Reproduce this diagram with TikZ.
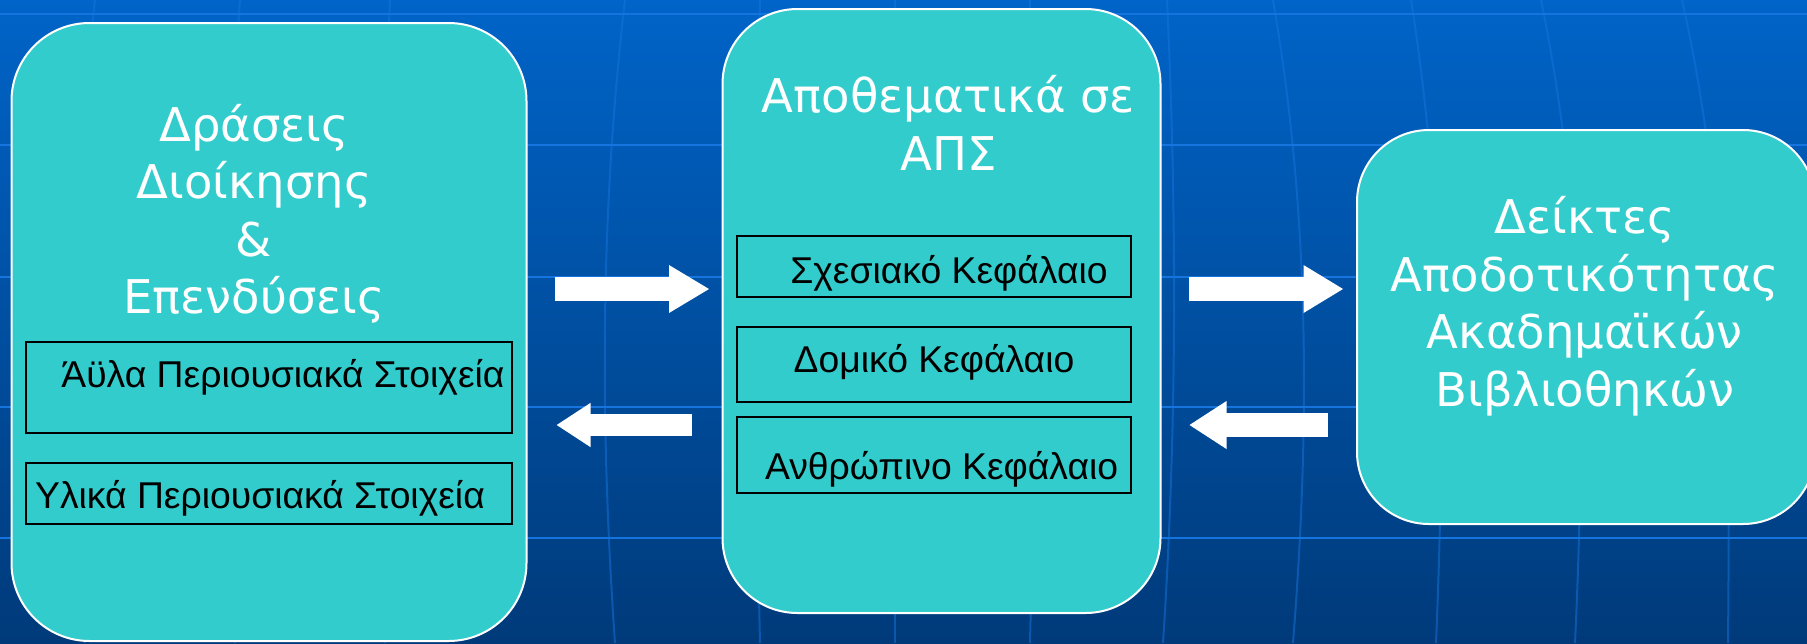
\documentclass[tikz,border=0pt]{standalone}
\usepackage{fontspec}
\usetikzlibrary{arrows.meta}
\newfontfamily\titlefont{DejaVu Sans}
\newfontfamily\labelfont{Liberation Sans}
\definecolor{bgtop}{RGB}{0,100,200}
\definecolor{bgbot}{RGB}{0,58,122}
\definecolor{gridc}{RGB}{22,116,222}
\definecolor{boxteal}{RGB}{51,204,204}
\tikzset{
  bigbox/.style={draw=white, line width=2pt, fill=boxteal, rounded corners=78pt, inner sep=0pt},
  subbox/.style={draw=black, line width=2pt, inner sep=0pt},
  titletext/.style={text=white, align=center, inner sep=0pt, font=\titlefont\fontsize{46.5pt}{57.5pt}\selectfont},
  labeltext/.style={text=black, inner sep=0pt, anchor=base, font=\labelfont\fontsize{37.3pt}{44pt}\selectfont},
  blockarrow/.style n args={3}{draw=white, line width=#1, line cap=rect, -{Triangle[width=#2, length=#3, line width=0pt]}},
  gridline/.style={draw=gridc, line width=2.5pt},
  meridian/.style={draw=gridc, line width=2pt, opacity=0.5}
}
\begin{document}
\begin{tikzpicture}[x=1pt, y=-1pt]
\useasboundingbox (0,0) rectangle (1807,643);
% background
\shade[top color=bgtop, bottom color=bgbot] (0,0) rectangle (1807,643);
\foreach \yy in {14,145,277,407,538} \draw[gridline] (0,\yy) -- (1807,\yy);
\foreach \xt/\xm/\xb in {95/70/85, 240/225/235, 390/380/385, 625/600/615, 760/755/760, 895/895/895, 1030/1035/1030, 1167/1177/1163, 1273/1310/1293, 1411/1445/1436, 1541/1585/1575, 1682/1730/1728}
  \draw[meridian] (\xt,0) .. controls (\xm,214) and (\xm,428) .. (\xb,643);
% big boxes
\node[bigbox, minimum width=515pt, minimum height=618pt] (lbox) at (269,332) {};
\node[bigbox, minimum width=438pt, minimum height=604pt, rounded corners=75pt] (mbox) at (941.5,311) {};
\node[bigbox, minimum width=458pt, minimum height=394pt, rounded corners=72pt] (rbox) at (1586,327) {};
% titles (anchor = baseline of last line)
\node[titletext, anchor=base] (ltitle) at (254,313.6) {Δράσεις\\Διοίκησης\\\&\\Επενδύσεις};
\node[titletext, anchor=base] (mtitle) at (948.5,170) {Αποθεματικά σε\\ΑΠΣ};
\node[titletext, anchor=base] (rtitle) at (1585,406) {Δείκτες\\Αποδοτικότητας\\Ακαδημαϊκών\\Βιβλιοθηκών};
% sub boxes
\node[subbox, minimum width=485.7pt, minimum height=91pt] (l1) at (268.9,387) {};
\node[subbox, minimum width=485.7pt, minimum height=61pt] (l2) at (268.9,493) {};
\node[subbox, minimum width=394pt, minimum height=61pt] (m1) at (934,266.2) {};
\node[subbox, minimum width=394pt, minimum height=75.4pt] (m2) at (934,364.5) {};
\node[subbox, minimum width=394pt, minimum height=75.8pt] (m3) at (934,455.3) {};
% sub labels
\node[labeltext] (l1t) at (283,387) {Άϋλα Περιουσιακά Στοιχεία};
\node[labeltext] (l2t) at (260,508.4) {Υλικά Περιουσιακά Στοιχεία};
\node[labeltext] (m1t) at (949,283) {Σχεσιακό Κεφάλαιο};
\node[labeltext] (m2t) at (934,372.3) {Δομικό Κεφάλαιο};
\node[labeltext] (m3t) at (941.6,479) {Ανθρώπινο Κεφάλαιο};
% arrows (start points offset by half the shaft width for the rect cap)
\coordinate (a1s) at (566.75,289);
\coordinate (a1e) at (709,289);
\coordinate (a2s) at (681.05,425);
\coordinate (a2e) at (556.7,425);
\coordinate (a3s) at (1200.75,289);
\coordinate (a3e) at (1343,289);
\coordinate (a4s) at (1316.25,425);
\coordinate (a4e) at (1189.5,425);
\draw[blockarrow={23.5pt}{48pt}{40pt}] (a1s) -- (a1e);
\draw[blockarrow={22.5pt}{44.5pt}{34pt}] (a2s) -- (a2e);
\draw[blockarrow={23.5pt}{48pt}{39.5pt}] (a3s) -- (a3e);
\draw[blockarrow={23.5pt}{48pt}{37pt}] (a4s) -- (a4e);
\end{tikzpicture}
\end{document}
